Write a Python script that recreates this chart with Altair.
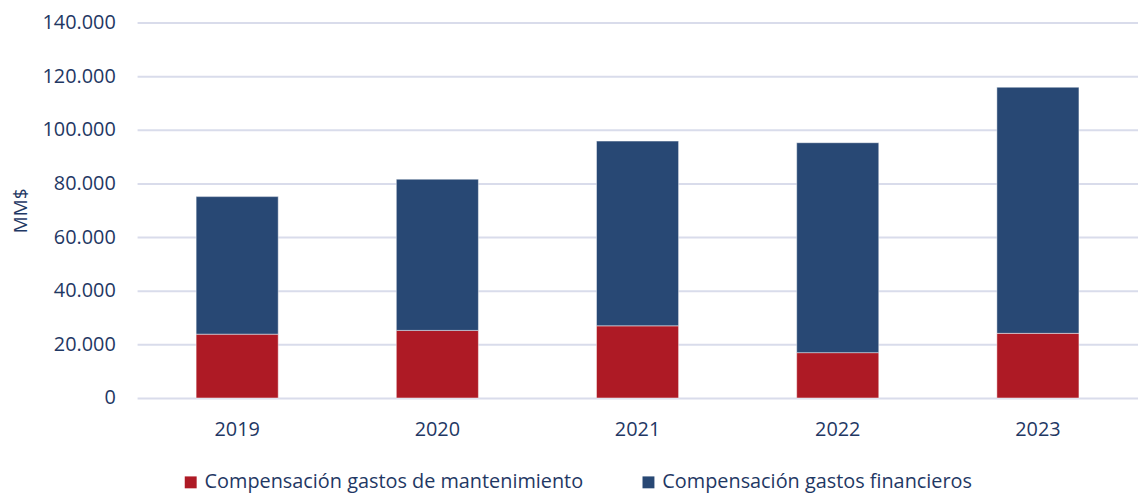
import altair as alt
import pandas as pd

years = ["2019", "2020", "2021", "2022", "2023"]
series = ["Compensación gastos de mantenimiento", "Compensación gastos financieros"]
mantenimiento = [23800, 25200, 26900, 16900, 24100]
financieros = [51300, 56400, 68900, 78300, 91800]
colors = ["#AE1A25", "#284874"]

rows = []
for i, y in enumerate(years):
    rows.append({"year": y, "serie": series[0], "value": mantenimiento[i], "ord": 0})
    rows.append({"year": y, "serie": series[1], "value": financieros[i], "ord": 1})
df = pd.DataFrame(rows)

txt = "#1F3864"
font = "Open Sans"

chart = alt.Chart(df).mark_bar(stroke="#ffffff", strokeWidth=1, strokeOpacity=0.45).encode(
    x=alt.X("year:N", sort=years,
            scale=alt.Scale(paddingInner=0.59, paddingOuter=0.295),
            axis=alt.Axis(title=None, labelAngle=0, ticks=False, domain=False, grid=False,
                          labelFontSize=20, labelColor=txt, labelFont=font, labelPadding=22)),
    y=alt.Y("value:Q", stack="zero",
            scale=alt.Scale(domain=[0, 140000], nice=False),
            axis=alt.Axis(title="MM$", values=[0, 20000, 40000, 60000, 80000, 100000, 120000, 140000],
                          labelExpr="replace(format(datum.value, ',.0f'), ',', '.')",
                          ticks=False, domain=False, grid=True, gridColor="#D9DCEB", gridWidth=2,
                          labelFontSize=20, labelColor=txt, labelFont=font, labelPadding=22,
                          titleFontSize=19, titleColor=txt, titleFont=font, titleFontWeight="normal",
                          titlePadding=12)),
    color=alt.Color("serie:N", sort=series,
                    scale=alt.Scale(domain=series, range=colors),
                    legend=alt.Legend(title=None, orient="none", direction="horizontal",
                                      legendX=44, legendY=453, symbolType="square", symbolSize=144,
                                      symbolStrokeWidth=0, labelFontSize=20, labelColor=txt,
                                      labelFont=font, columnPadding=55, labelOffset=4,
                                      labelLimit=500)),
    order=alt.Order("ord:Q", sort="ascending"),
).properties(
    width=1008, height=378,
    autosize=alt.AutoSizeParams(type="none"),
    padding={"left": 130, "top": 13, "right": 0, "bottom": 95},
).configure_view(stroke=None)

chart.save("out.html", embed_options={"renderer": "svg", "actions": False})
